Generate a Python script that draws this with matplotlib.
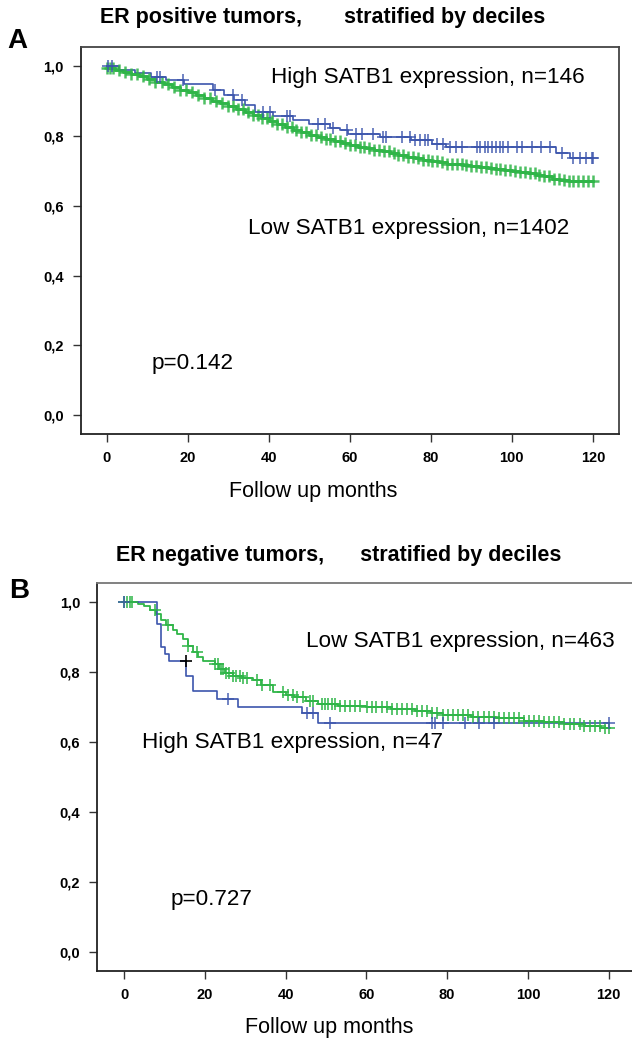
import matplotlib
matplotlib.use("Agg")
import matplotlib.pyplot as plt
from matplotlib.ticker import FuncFormatter

# ---- Panel A: ER positive tumors ----
a_high_t = [0, 3, 7, 11, 14.5, 19, 26.3, 29, 31.5, 34, 36.5, 41, 46, 50, 55, 57.5,
            59.5, 67.4, 75.2, 80.2, 83.8, 111, 114.3, 120]
a_high_s = [1.0, 0.99, 0.98, 0.97, 0.96, 0.948, 0.933, 0.917, 0.903, 0.888, 0.87, 0.857,
            0.845, 0.835, 0.824, 0.817, 0.807, 0.797, 0.788, 0.778, 0.769, 0.752, 0.737, 0.737]
a_high_cens = [0.2, 1.2, 12.3, 13.1, 18.8, 26.7, 31.2, 33.3, 38.6, 40.2, 44.4, 45.2, 52.2,
               53.8, 55.9, 59.2, 61.6, 62.9, 65.8, 68.2, 69.0, 72.8, 74.8, 76.0, 77.3, 78.5,
               79.3, 81.4, 83.0, 84.7, 86.3, 87.6, 91.3, 92.1, 93.3, 94.1, 95.0, 96.2, 97.0,
               97.9, 99.1, 101.2, 102.4, 104.9, 107.3, 109.4, 112.3, 115.1, 116.8, 118.4,
               119.7, 120.0]

a_low_t = [0, 2, 4, 6, 8, 10, 12, 14, 16, 18, 20, 22, 24, 26, 28, 30, 32, 34, 36, 38, 40,
           42, 44, 46, 48, 50, 52, 54, 56, 58, 60, 62, 64, 66, 68, 70, 72, 74, 76, 78, 80,
           82, 84, 86, 88, 90, 92, 94, 96, 98, 100, 102, 104, 106, 108, 110, 112, 114, 116, 120]
a_low_s = [0.995, 0.99, 0.984, 0.978, 0.971, 0.963, 0.956, 0.948, 0.94, 0.932, 0.925, 0.917,
           0.909, 0.901, 0.894, 0.886, 0.877, 0.868, 0.859, 0.851, 0.843, 0.834, 0.826, 0.818,
           0.811, 0.804, 0.797, 0.791, 0.786, 0.781, 0.775, 0.769, 0.765, 0.761, 0.756, 0.751,
           0.746, 0.741, 0.736, 0.731, 0.727, 0.724, 0.721, 0.719, 0.717, 0.715, 0.712, 0.709,
           0.706, 0.703, 0.699, 0.696, 0.693, 0.689, 0.684, 0.677, 0.673, 0.672, 0.671, 0.671]
a_low_cens = [0.0, 0.8, 1.6, 3.0, 4.5, 6.0, 7.5, 9.0, 10.5, 12.0, 13.5, 15.0, 16.5, 18.0,
              19.5, 21.0, 22.5, 24.0, 25.5, 27.0, 28.5, 30.0, 31.2, 32.4, 33.6, 34.8, 36.0,
              37.2, 38.4, 39.6, 40.8, 42.0, 43.2, 44.4, 45.6, 46.8, 48.0, 49.2, 50.4, 51.6,
              52.8, 54.0, 55.2, 56.4, 57.6, 58.8, 60.0, 61.2, 62.4, 63.6, 64.8, 66.0, 67.2,
              68.4, 69.6, 70.8, 72.0, 73.2, 74.4, 75.6, 76.8, 78.0, 79.2, 80.4, 81.6, 82.8,
              84.0, 85.2, 86.4, 87.6, 88.8, 90.0, 91.2, 92.4, 93.6, 94.8, 96.0, 97.2, 98.4,
              99.6, 100.8, 102.0, 103.2, 104.4, 105.6, 106.8, 108.0, 109.2, 110.4, 111.6,
              112.8, 114.0, 115.2, 116.4, 117.6, 118.8, 120.0]

# ---- Panel B: ER negative tumors ----
b_high_t = [0, 8.1, 9.2, 10.2, 11.2, 15.4, 17.0, 23.1, 28.1, 44.0, 47.9, 120]
b_high_s = [1.0, 0.936, 0.871, 0.851, 0.831, 0.789, 0.746, 0.724, 0.701, 0.682, 0.655, 0.655]
b_high_cens = [0.0, 25.8, 45.3, 46.9, 51.0, 76.2, 77.0, 78.9, 84.5, 88.0, 91.5, 120.0]
b_high_black_cens = [15.3]

b_low_t = [0, 3.5, 5, 6.5, 8, 9.2, 10.5, 12, 13.2, 14.5, 15.8, 17, 18.3, 19.5, 22.5, 23.5,
           25, 27, 29.5, 32, 34, 37, 40, 42, 45, 48, 53, 60, 66, 72, 76, 79, 86, 92, 99,
           104, 109, 114, 118, 120]
b_low_s = [1.0, 0.995, 0.989, 0.977, 0.965, 0.95, 0.935, 0.92, 0.908, 0.893, 0.875, 0.858,
           0.842, 0.832, 0.822, 0.808, 0.797, 0.79, 0.783, 0.776, 0.762, 0.742, 0.734, 0.728,
           0.718, 0.709, 0.703, 0.699, 0.693, 0.689, 0.684, 0.677, 0.672, 0.668, 0.661,
           0.656, 0.651, 0.646, 0.641, 0.641]
b_low_cens = [0.0, 0.7, 1.4, 2.0, 7.7, 11.0, 15.9, 18.1, 22.6, 23.2, 23.9, 24.5, 25.3, 26.1,
              27.0, 27.8, 28.7, 29.5, 30.5, 33.0, 34.1, 36.1, 39.4, 40.7, 41.9, 42.7, 44.4,
              46.0, 46.8, 48.9, 49.7, 50.5, 51.4, 52.2, 53.5, 54.7, 55.9, 57.2, 58.4, 60.1,
              61.3, 62.5, 63.8, 65.0, 66.3, 67.5, 68.7, 70.0, 71.2, 72.5, 73.7, 74.9, 76.2,
              77.4, 79.0, 80.2, 81.5, 82.7, 84.0, 85.2, 86.5, 87.7, 89.0, 90.3, 91.5, 92.8,
              94.0, 95.3, 96.5, 97.8, 99.0, 100.3, 101.5, 102.8, 104.0, 105.3, 106.5, 107.8,
              109.0, 110.3, 111.5, 112.8, 114.0, 115.3, 116.5, 117.8, 119.0, 120.0]

y_ticks = [0.0, 0.2, 0.4, 0.6, 0.8, 1.0]
x_ticks = [0, 20, 40, 60, 80, 100, 120]

BLUE = '#3c55ad'
GREEN = '#2fb548'
FONT = ['Liberation Sans', 'DejaVu Sans']


def surv_at(times, surv, t):
    # value of the step function at time t
    val = surv[0]
    for ti, si in zip(times, surv):
        if ti <= t:
            val = si
    return val


def km(ax, times, surv, cens, color, lw, ms, mew, cens_color=None):
    ax.step(times, surv, where='post', color=color, lw=lw, zorder=3)
    ys = [surv_at(times, surv, c) for c in cens]
    ax.plot(cens, ys, ls='none', marker='+', ms=ms, mew=mew,
            color=cens_color or color, alpha=0.85, zorder=4)


def style_axes(ax, xlim, ylim, frame_color):
    ax.set_xlim(*xlim)
    ax.set_ylim(*ylim)
    ax.set_xticks(x_ticks)
    ax.set_yticks(y_ticks)
    ax.yaxis.set_major_formatter(FuncFormatter(lambda v, p: f'{v:.1f}'.replace('.', ',')))
    ax.tick_params(direction='out', length=6, width=1, color='#333333', pad=6)
    for lab in ax.get_xticklabels() + ax.get_yticklabels():
        lab.set_fontweight('bold')
        lab.set_fontsize(10.5)
        lab.set_family(FONT)
    for side in ['left', 'bottom']:
        ax.spines[side].set_color('#222222')
        ax.spines[side].set_linewidth(1.3)
    for side in ['top', 'right']:
        ax.spines[side].set_color(frame_color)
        ax.spines[side].set_linewidth(1.3)


fig = plt.figure(figsize=(6.32, 10.39), dpi=100)

# Panel A
axA = fig.add_axes([0.1275, 0.582, 0.8515, 0.3728])
km(axA, a_low_t, a_low_s, a_low_cens, GREEN, 2.0, 8, 1.8)
km(axA, a_high_t, a_high_s, a_high_cens, BLUE, 1.2, 8, 1.2)
style_axes(axA, (-6.5, 126.4), (-0.055, 1.055), '#444444')
axA.text(40.5, 0.968, 'High SATB1 expression, n=146', fontsize=16.2, family=FONT, va='center')
axA.text(34.8, 0.536, 'Low SATB1 expression, n=1402', fontsize=16.2, family=FONT, va='center')
axA.text(11.1, 0.149, 'p=0.142', fontsize=16.2, family=FONT, va='center')

# Panel B
axB = fig.add_axes([0.1535, 0.0654, 0.8665, 0.3734])
km(axB, b_low_t, b_low_s, b_low_cens, GREEN, 1.3, 9, 1.3)
km(axB, b_high_t, b_high_s, b_high_cens, BLUE, 1.2, 9, 1.2)
axB.plot(b_high_black_cens, [surv_at(b_high_t, b_high_s, c) for c in b_high_black_cens],
         ls='none', marker='+', ms=9, mew=1.2, color='black', zorder=4)
style_axes(axB, (-6.7, 128.9), (-0.054, 1.054), '#777777')
axB.text(45.0, 0.886, 'Low SATB1 expression, n=463', fontsize=16.2, family=FONT, va='center')
axB.text(4.5, 0.60, 'High SATB1 expression, n=47', fontsize=16.2, family=FONT, va='center')
axB.text(11.4, 0.151, 'p=0.727', fontsize=16.2, family=FONT, va='center')

# titles, panel letters and axis labels
fig.text(0.510, 0.9827, 'ER positive tumors,       stratified by deciles', ha='center',
         va='center', fontsize=15.5, fontweight='bold', family=FONT)
fig.text(0.5356, 0.4649, 'ER negative tumors,      stratified by deciles', ha='center',
         va='center', fontsize=15.5, fontweight='bold', family=FONT)
fig.text(0.012, 0.961, 'A', ha='left', va='center', fontsize=20, fontweight='bold', family=FONT)
fig.text(0.015, 0.431, 'B', ha='left', va='center', fontsize=20, fontweight='bold', family=FONT)
fig.text(0.496, 0.5274, 'Follow up months', ha='center', va='center', fontsize=15.5, family=FONT)
fig.text(0.5206, 0.0106, 'Follow up months', ha='center', va='center', fontsize=15.5, family=FONT)

fig.savefig('out.png', dpi=100)
